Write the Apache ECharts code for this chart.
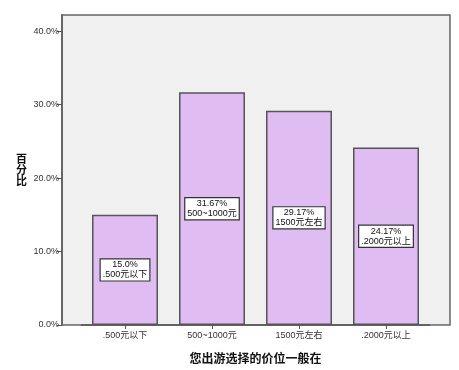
<!DOCTYPE html>
<html>
<head>
<meta charset="utf-8">
<script src="https://cdn.jsdelivr.net/npm/echarts@6/dist/echarts.min.js"></script>
<style>html,body{margin:0;padding:0;background:#fff;}#c{width:459px;height:370px;}</style>
</head>
<body>
<div id="c"></div>
<script>
const categories = ['.500元以下', '500~1000元', '1500元左右', '.2000元以上'];
const values = [15.0, 31.67, 29.17, 24.17];
const yTicks = [0, 10, 20, 30, 40];

const FONT = '"Liberation Sans", Arial, "Noto Sans CJK SC", sans-serif';
const chart = echarts.init(document.getElementById('c'), null, {renderer: 'canvas'});
chart.setOption({
  animation: false,
  backgroundColor: '#ffffff',
  grid: [
    {left: 62, top: 15, right: 9, bottom: 45, show: true, backgroundColor: '#f0f0f0', borderColor: '#666', borderWidth: 1.5},
    {left: 81.5, top: 15, width: 348, bottom: 45}
  ],
  xAxis: [
    {gridIndex: 0, type: 'value', min: 0, max: 1, show: false},
    {
      gridIndex: 1, type: 'category', data: categories,
      axisLine: {show: true, lineStyle: {color: '#555', width: 1.5}},
      axisTick: {show: true, alignWithLabel: true, length: 4, lineStyle: {color: '#555'}},
      axisLabel: {fontSize: 9, color: '#333', margin: 6, fontFamily: FONT},
      name: '您出游选择的价位一般在', nameLocation: 'middle', nameGap: 27,
      nameTextStyle: {fontSize: 12, fontWeight: 'bold', color: '#111', fontFamily: '"Noto Sans CJK SC", sans-serif'}
    }
  ],
  yAxis: [
    {
      gridIndex: 0, type: 'value', min: 0, max: 42.2, interval: 10,
      axisLine: {show: true, lineStyle: {color: '#666', width: 2}},
      axisTick: {show: true, length: 5, customValues: yTicks, lineStyle: {color: '#555'}},
      axisLabel: {customValues: yTicks, fontSize: 9, color: '#333', margin: 3, fontFamily: FONT,
        formatter: v => v.toFixed(1) + '%'},
      splitLine: {show: false},
      name: '百\n分\n比', nameLocation: 'middle', nameGap: 35, nameRotate: 0,
      nameTextStyle: {fontSize: 11, fontWeight: 'bold', color: '#111', lineHeight: 11, fontFamily: '"Noto Sans CJK SC", sans-serif'}
    },
    {gridIndex: 1, type: 'value', min: 0, max: 42.2, show: false}
  ],
  series: [{
    type: 'bar', xAxisIndex: 1, yAxisIndex: 1,
    data: values, barWidth: 66,
    itemStyle: {color: '#dfbcf2', borderColor: '#555', borderWidth: 1.5},
    label: {
      show: true, position: 'inside',
      formatter: p => (Number.isInteger(p.value) ? p.value.toFixed(1) : p.value.toFixed(2)) + '%\n' + p.name,
      fontSize: 9, lineHeight: 10, color: '#111', fontFamily: FONT,
      backgroundColor: '#fff', borderColor: '#333', borderWidth: 1.2, padding: [1, 2, 0, 2], align: 'center'
    }
  }]
});
</script>
</body>
</html>
